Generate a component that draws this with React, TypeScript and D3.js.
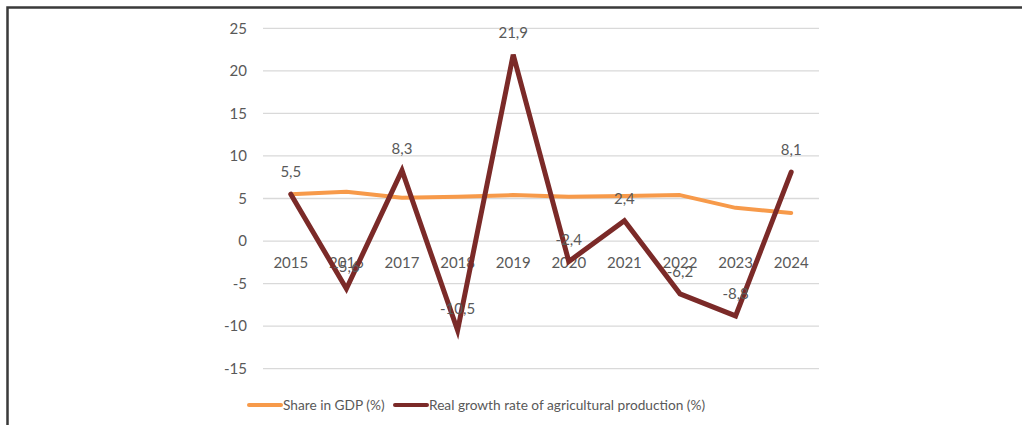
import React from "react";
import * as d3 from "d3";

const years = ["2015", "2016", "2017", "2018", "2019", "2020", "2021", "2022", "2023", "2024"];
const shareInGdp = [5.5, 5.8, 5.1, 5.2, 5.4, 5.2, 5.3, 5.4, 3.9, 3.3];
const realGrowth = [5.5, -5.6, 8.3, -10.5, 21.9, -2.4, 2.4, -6.2, -8.8, 8.1];
const yTicks = [25, 20, 15, 10, 5, 0, -5, -10, -15];
const seriesNames = ["Share in GDP (%)", "Real growth rate of agricultural production (%)"];

const W = 1022;
const H = 425;
const FONT = "Lato, 'Open Sans', sans-serif";
const TEXT = "#595959";
const ORANGE = "#F79A4A";
const BROWN = "#7B2A28";

export default function App() {
  const plotLeft = 263;
  const plotRight = 819;
  const x = d3.scaleBand<string>().domain(years).range([plotLeft, plotRight]);
  const y = d3.scaleLinear().domain([-15, 25]).range([368.7, 28.3]);
  const cx = (d: string) => (x(d) as number) + x.bandwidth() / 2;

  const line = d3
    .line<number>()
    .x((_, i) => cx(years[i]))
    .y((v) => y(v));

  const fmt = (v: number) => v.toFixed(1).replace(".", ",");

  return (
    <svg
      width={W}
      height={H}
      style={{ position: "absolute", left: 0, top: 0, background: "#fff" }}
      fontFamily={FONT}
    >
      <rect x={0} y={0} width={W} height={H} fill="#fff" />
      {/* frame */}
      <path d={`M7.5,${H + 5} V7.5 H${W + 5}`} fill="none" stroke="#3a3a3a" strokeWidth={2.5} />

      {/* gridlines */}
      {yTicks.map((t) => (
        <g key={t}>
          <line x1={plotLeft} x2={plotRight} y1={y(t)} y2={y(t)} stroke="#D9D9D9" strokeWidth={1.3} />
          <text x={247} y={y(t)} dy="0.35em" textAnchor="end" fontSize={15} fill={TEXT}>
            {t}
          </text>
        </g>
      ))}

      {/* x labels */}
      {years.map((yr) => (
        <text key={yr} x={cx(yr)} y={263} dy="0.35em" textAnchor="middle" fontSize={15} fill={TEXT}>
          {yr}
        </text>
      ))}

      {/* lines */}
      <path d={line(shareInGdp) || ""} fill="none" stroke={ORANGE} strokeWidth={4} strokeLinejoin="round" strokeLinecap="round" />
      <path d={line(realGrowth) || ""} fill="none" stroke={BROWN} strokeWidth={5} strokeLinejoin="miter" strokeLinecap="round" />

      {/* data labels */}
      {realGrowth.map((v, i) => (
        <text
          key={i}
          x={cx(years[i])}
          y={y(v) - 22}
          dy="0.35em"
          textAnchor="middle"
          fontSize={15}
          fill={TEXT}
        >
          {fmt(v)}
        </text>
      ))}

      {/* legend */}
      <line x1={249} x2={281} y1={405} y2={405} stroke={ORANGE} strokeWidth={4} strokeLinecap="round" />
      <text x={283} y={405} dy="0.35em" fontSize={13.7} fill={TEXT}>
        {seriesNames[0]}
      </text>
      <line x1={395} x2={427} y1={405} y2={405} stroke={BROWN} strokeWidth={4} strokeLinecap="round" />
      <text x={429} y={405} dy="0.35em" fontSize={13.7} fill={TEXT}>
        {seriesNames[1]}
      </text>
    </svg>
  );
}
